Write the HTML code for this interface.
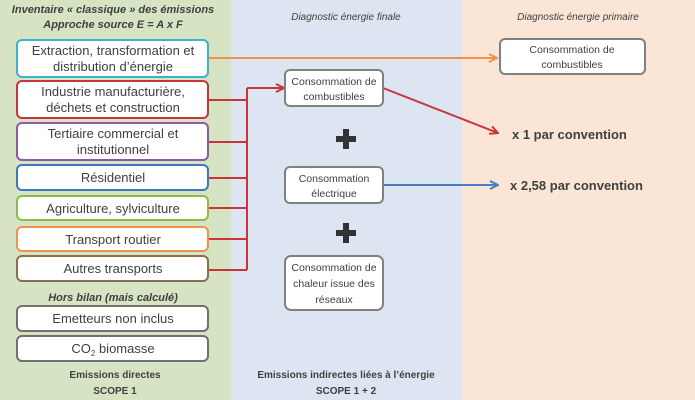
<!DOCTYPE html>
<html><head><meta charset="utf-8"><style>
html,body{margin:0;padding:0;background:#fff}
svg{display:block}
text{font-family:"Liberation Sans",sans-serif;fill:#404040}
</style></head><body>
<svg width="695" height="400" viewBox="0 0 695 400" xmlns="http://www.w3.org/2000/svg">
<defs>
<marker id="ao" markerWidth="10" markerHeight="10" refX="9" refY="5" orient="auto" markerUnits="userSpaceOnUse"><path d="M1,1 L9,5 L1,9" fill="none" stroke="#f0924a" stroke-width="2"/></marker>
<marker id="ar" markerWidth="10" markerHeight="10" refX="9" refY="5" orient="auto" markerUnits="userSpaceOnUse"><path d="M1,1 L9,5 L1,9" fill="none" stroke="#c9353a" stroke-width="2"/></marker>
<marker id="ab" markerWidth="10" markerHeight="10" refX="9" refY="5" orient="auto" markerUnits="userSpaceOnUse"><path d="M1,1 L9,5 L1,9" fill="none" stroke="#4a7ec0" stroke-width="2"/></marker>
</defs>
<rect x="0" y="0" width="231" height="400" fill="#d7e4c3"/>
<rect x="231" y="0" width="231" height="400" fill="#dce5f1"/>
<rect x="462" y="0" width="233" height="400" fill="#fbe5d6"/>

<g font-size="11" font-style="italic" font-weight="bold" text-anchor="middle">
<text x="113" y="13">Inventaire « classique » des émissions</text>
<text x="113" y="28">Approche source      E = A x F</text>
<text x="113" y="301">Hors bilan (mais calculé)</text>
</g>
<g font-size="10" font-style="italic" text-anchor="middle">
<text x="346" y="20">Diagnostic énergie finale</text>
<text x="578" y="20">Diagnostic énergie primaire</text>
</g>

<g stroke="#c9353a" stroke-width="2" fill="none">
<line x1="247" y1="88" x2="247" y2="270"/>
<line x1="208" y1="100" x2="247" y2="100"/>
<line x1="208" y1="142" x2="247" y2="142"/>
<line x1="208" y1="178" x2="247" y2="178"/>
<line x1="208" y1="208" x2="247" y2="208"/>
<line x1="208" y1="239" x2="247" y2="239"/>
<line x1="208" y1="270" x2="247" y2="270"/>
<line x1="247" y1="88" x2="284" y2="88" marker-end="url(#ar)"/>
<line x1="383" y1="88" x2="498" y2="133" marker-end="url(#ar)"/>
</g>
<line x1="208" y1="58" x2="497" y2="58" stroke="#f0924a" stroke-width="2" marker-end="url(#ao)"/>
<line x1="383" y1="185" x2="498" y2="185" stroke="#4a7ec0" stroke-width="2" marker-end="url(#ab)"/>

<g fill="#fff" stroke-width="2">
<rect x="17" y="40" width="191" height="37" rx="5" stroke="#3cb1d0"/>
<rect x="17" y="81" width="191" height="37" rx="5" stroke="#c9353a"/>
<rect x="17" y="123" width="191" height="37" rx="5" stroke="#8a5aa8"/>
<rect x="17" y="165" width="191" height="25" rx="5" stroke="#3d78be"/>
<rect x="17" y="196" width="191" height="24" rx="5" stroke="#8dbb4a"/>
<rect x="17" y="227" width="191" height="24" rx="5" stroke="#f0924a"/>
<rect x="17" y="256" width="191" height="25" rx="5" stroke="#867050"/>
<rect x="17" y="306" width="191" height="25" rx="5" stroke="#707070"/>
<rect x="17" y="336" width="191" height="25" rx="5" stroke="#707070"/>
<rect x="285" y="70" width="98" height="36" rx="5" stroke="#808080"/>
<rect x="285" y="167" width="98" height="36" rx="5" stroke="#808080"/>
<rect x="285" y="256" width="98" height="54" rx="6" stroke="#808080"/>
<rect x="500" y="39" width="145" height="35" rx="5" stroke="#808080"/>
</g>

<g font-size="13" text-anchor="middle">
<text x="113" y="55">Extraction, transformation et</text>
<text x="113" y="71">distribution d’énergie</text>
<text x="113" y="96">Industrie manufacturière,</text>
<text x="113" y="112">déchets et construction</text>
<text x="113" y="138">Tertiaire commercial et</text>
<text x="113" y="154">institutionnel</text>
<text x="113" y="182">Résidentiel</text>
<text x="113" y="213">Agriculture, sylviculture</text>
<text x="113" y="244">Transport routier</text>
<text x="113" y="273">Autres transports</text>
<text x="113" y="323">Emetteurs non inclus</text>
<text x="113" y="353">CO<tspan font-size="8" dy="3">2</tspan><tspan dy="-3"> biomasse</tspan></text>
</g>
<g font-size="10.5" text-anchor="middle">
<text x="334" y="85">Consommation de</text>
<text x="334" y="100">combustibles</text>
<text x="334" y="182">Consommation</text>
<text x="334" y="197">électrique</text>
<text x="334" y="271">Consommation de</text>
<text x="334" y="287">chaleur issue des</text>
<text x="334" y="303">réseaux</text>
<text x="572" y="53">Consommation de</text>
<text x="572" y="68">combustibles</text>
</g>
<g fill="#333">
<rect x="336" y="136" width="20" height="6"/><rect x="343" y="129" width="6" height="20"/>
<rect x="336" y="230" width="20" height="6"/><rect x="343" y="223" width="6" height="20"/>
</g>
<g font-size="13" font-weight="bold">
<text x="512" y="139" fill="#333">x 1 par convention</text>
<text x="510" y="190" fill="#333">x 2,58 par convention</text>
</g>
<g font-size="10" font-weight="bold" text-anchor="middle">
<text x="115" y="378">Emissions directes</text>
<text x="115" y="394">SCOPE 1</text>
<text x="346" y="378">Emissions indirectes liées à l’énergie</text>
<text x="346" y="394">SCOPE 1 + 2</text>
</g>
</svg>
</body></html>
